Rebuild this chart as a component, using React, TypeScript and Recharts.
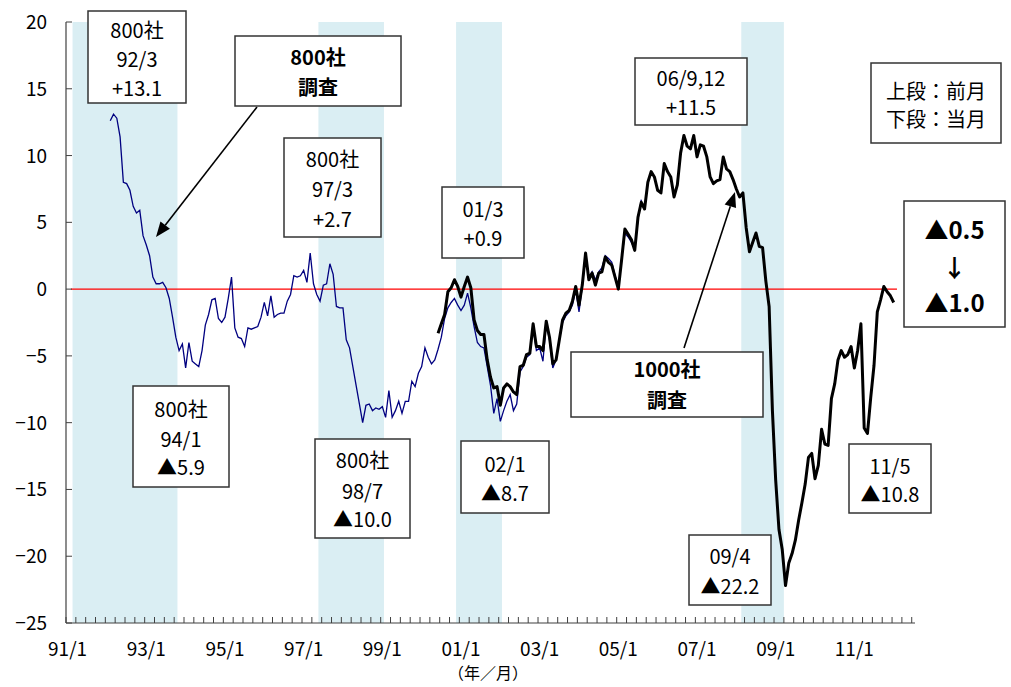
import { LineChart, Line, XAxis, YAxis, ReferenceArea, ReferenceLine } from 'recharts'

// 月次カテゴリ 91/1 〜 12/7
const months: string[] = []
for (let y = 1991; y <= 2012; y++) {
  for (let m = 1; m <= 12; m++) {
    if (y === 2012 && m > 7) break
    months.push(`${String(y % 100).padStart(2, '0')}/${m}`)
  }
}

// 800社調査 (92/2〜05/8)
const survey800Start = '92/2'
const survey800 = [
  12.6, 13.1, 12.8, 11.4, 8.0, 7.9, 7.4, 6.2, 5.7, 5.9, 4.0,
  3.3, 2.5, 0.9, 0.4, 0.4, 0.5, 0.1, -0.7, -2.1, -3.6, -4.6, -4.1,
  -5.9, -4.0, -5.4, -5.6, -5.8, -4.6, -2.7, -1.9, -0.8, -0.7, -2.2, -2.5,
  -2.1, -0.7, 0.9, -2.9, -3.6, -3.7, -4.3, -2.9, -3.0, -2.9, -2.8, -2.1,
  -1.0, -2.0, -0.5, -2.1, -1.9, -1.8, -1.8, -0.9, -0.4, 1.0, 0.9, 1.0,
  1.4, 0.5, 2.7, 0.4, -0.4, -0.9, 0.3, 0.4, 1.9, 1.1, -1.3, -1.4,
  -1.4, -3.8, -4.4, -5.8, -7.2, -8.6, -10.0, -8.7, -8.6, -9.1, -8.9, -9.0,
  -8.8, -9.6, -7.6, -9.6, -9.1, -8.4, -9.3, -8.4, -8.4, -6.9, -7.3, -6.3,
  -5.8, -4.4, -5.1, -5.6, -5.3, -4.5, -3.6, -2.2, -1.4, -1.0, -0.7, -1.2,
  -1.6, -1.2, -0.3, -1.4, -2.8, -4.0, -4.3, -4.4, -5.8, -7.2, -9.3, -8.2,
  -9.9, -9.1, -8.4, -7.9, -9.1, -8.6, -6.2, -5.8, -5.1, -4.9, -2.9, -4.6,
  -4.4, -5.4, -2.6, -3.8, -5.9, -5.3, -3.8, -2.5, -2.0, -1.7, -1.2, -0.1,
  -1.7, 0.2, 2.6, 0.9, 1.3, 0.7, 1.3, 1.6, 2.5, 2.3, 2.0, 1.0,
  0.1, 2.2, 4.2, 3.9, 3.5, 3.0, 5.2, 6.7,
]

// 1000社調査 (00/6〜12/1)
const survey1000Start = '00/6'
const survey1000 = [
  -3.3, -2.6, -1.9, -0.2, 0.1, 0.7, 0.2,
  -0.6, 0.2, 0.9, 0.1, -2.3, -3.1, -3.4, -3.4, -5.3, -6.6, -7.4, -7.3,
  -8.7, -7.4, -7.1, -7.3, -7.7, -7.9, -5.8, -5.7, -4.9, -4.8, -2.6, -4.3,
  -4.3, -4.6, -2.4, -3.6, -5.6, -5.3, -3.8, -2.3, -1.8, -1.6, -0.9, 0.2,
  -1.2, 0.3, 2.7, 0.7, 1.2, 0.3, 1.2, 1.3, 2.4, 2.0, 1.8, 0.9,
  0.0, 2.2, 4.5, 4.1, 3.7, 2.9, 5.4, 6.5, 6.0, 8.0, 8.8, 8.4,
  7.4, 7.2, 9.4, 8.8, 8.4, 6.9, 7.8, 10.2, 11.5, 10.7, 10.5, 11.5,
  9.9, 10.8, 10.7, 9.9, 8.4, 7.9, 8.1, 8.2, 9.9, 9.0, 8.8, 8.2,
  7.5, 6.9, 7.2, 4.6, 2.8, 3.5, 4.2, 3.2, 3.1, 0.6, -1.3, -9.1,
  -14.3, -18.0, -19.5, -22.2, -20.5, -19.8, -18.8, -17.3, -16.0, -14.6, -12.6, -12.3,
  -14.2, -13.2, -10.5, -11.6, -11.7, -8.2, -7.1, -5.3, -4.6, -5.1, -4.9, -4.3,
  -5.9, -4.6, -2.6, -10.4, -10.8, -8.1, -5.7, -1.7, -0.8, 0.2, -0.2, -0.5,
  -1.0,
]

// 景気後退期 (網掛け)
const recessions: [string, string][] = [
  ['91/3', '93/10'],
  ['97/6', '99/1'],
  ['00/12', '02/1'],
  ['08/3', '09/3'],
]

const zeroLine: [string, string] = ['91/2', '12/2']

const yTicks = [-25, -20, -15, -10, -5, 0, 5, 10, 15, 20]

const WIDTH = 1011
const HEIGHT = 687
const PLOT_LEFT = 66
const PLOT_TOP = 22
const PLOT_RIGHT = 915
const PLOT_BOTTOM = 623
const BAND = (PLOT_RIGHT - PLOT_LEFT) / months.length

const FONT = "'Noto Sans CJK JP', 'Noto Sans', sans-serif"
const AXIS = '#404040'

const i800 = months.indexOf(survey800Start)
const i1000 = months.indexOf(survey1000Start)

const data = months.map((m, i) => ({
  x: i + 0.5,
  month: m,
  s800: i >= i800 && i < i800 + survey800.length ? survey800[i - i800] : null,
  s1000: i >= i1000 && i < i1000 + survey1000.length ? survey1000[i - i1000] : null,
}))

const xTicks = months.map((_, i) => i).filter((i) => i % 3 === 0)

function MonthTick(props: any) {
  const { x, y, payload } = props
  const v = payload.value as number
  return (
    <g>
      <line x1={x} x2={x} y1={y - 6} y2={y} stroke={AXIS} strokeWidth={1} />
      {v % 24 === 0 && (
        <text x={x + BAND / 2} y={y + 33} textAnchor="middle" fontSize={19} fontFamily={FONT} fill="#000">
          {months[v]}
        </text>
      )}
    </g>
  )
}

function ValueTick(props: any) {
  const { x, y, payload } = props
  const v = payload.value as number
  return (
    <g>
      <line x1={x} x2={x + 6} y1={y} y2={y} stroke={AXIS} strokeWidth={1} />
      <text x={x - 19} y={y + 7} textAnchor="end" fontSize={19} fontFamily={FONT} fill="#000">
        {v < 0 ? `−${-v}` : v}
      </text>
    </g>
  )
}

interface Note {
  x: number
  y: number
  w: number
  h: number
  lines: string[]
  ys: number[]
  size?: number
  bold?: boolean
}

const notes: Note[] = [
  { x: 88, y: 11, w: 98, h: 92, lines: ['800社', '92/3', '+13.1'], ys: [31, 60, 89] },
  { x: 235, y: 36, w: 166, h: 70, lines: ['800社', '調査'], ys: [58, 88], size: 20, bold: true },
  { x: 284, y: 138, w: 97, h: 99, lines: ['800社', '97/3', '+2.7'], ys: [160, 190, 220] },
  { x: 442, y: 187, w: 82, h: 71, lines: ['01/3', '+0.9'], ys: [210, 239] },
  { x: 635, y: 58, w: 112, h: 67, lines: ['06/9,12', '+11.5'], ys: [79, 108] },
  { x: 871, y: 63, w: 130, h: 80, lines: ['上段：前月', '下段：当月'], ys: [92, 120], size: 20 },
  { x: 904, y: 201, w: 101, h: 126, lines: ['▲0.5', '↓', '▲1.0'], ys: [230, 268, 303], size: 24, bold: true },
  { x: 133, y: 386, w: 96, h: 101, lines: ['800社', '94/1', '▲5.9'], ys: [410, 440, 468] },
  { x: 315, y: 439, w: 95, h: 99, lines: ['800社', '98/7', '▲10.0'], ys: [461, 492, 520] },
  { x: 461, y: 441, w: 88, h: 72, lines: ['02/1', '▲8.7'], ys: [465, 494] },
  { x: 571, y: 352, w: 192, h: 65, lines: ['1000社', '調査'], ys: [370, 401], size: 20, bold: true },
  { x: 689, y: 535, w: 82, h: 70, lines: ['09/4', '▲22.2'], ys: [557, 587] },
  { x: 849, y: 444, w: 82, h: 69, lines: ['11/5', '▲10.8'], ys: [467, 495] },
]

const arrows = [
  { from: [257, 107], to: [156, 237] },
  { from: [684, 348], to: [735, 192] },
]

function Arrow({ from, to }: { from: number[]; to: number[] }) {
  const dx = to[0] - from[0]
  const dy = to[1] - from[1]
  const len = Math.hypot(dx, dy)
  const ux = dx / len
  const uy = dy / len
  const hl = 15
  const hw = 6
  const bx = to[0] - ux * hl
  const by = to[1] - uy * hl
  const pts = [
    `${to[0]},${to[1]}`,
    `${bx - uy * hw},${by + ux * hw}`,
    `${bx + uy * hw},${by - ux * hw}`,
  ].join(' ')
  return (
    <g>
      <line x1={from[0]} y1={from[1]} x2={bx} y2={by} stroke="#000" strokeWidth={1.6} />
      <polygon points={pts} fill="#000" />
    </g>
  )
}

export default function App() {
  return (
    <div style={{ position: 'absolute', left: 0, top: 0, width: WIDTH, height: HEIGHT, background: '#fff' }}>
      <LineChart
        width={WIDTH}
        height={HEIGHT}
        data={data}
        margin={{ top: PLOT_TOP, right: WIDTH - PLOT_RIGHT, bottom: 0, left: 0 }}
      >
        {recessions.map(([a, b]) => (
          <ReferenceArea
            key={a}
            x1={months.indexOf(a)}
            x2={months.indexOf(b) + 1}
            y1={-25}
            y2={20}
            fill="#DAEEF3"
            fillOpacity={1}
            stroke="none"
          />
        ))}
        <XAxis
          type="number"
          dataKey="x"
          domain={[0, months.length]}
          ticks={xTicks}
          interval={0}
          allowDataOverflow
          height={HEIGHT - PLOT_BOTTOM}
          tickLine={false}
          tickSize={0}
          tickMargin={0}
          tick={<MonthTick />}
          axisLine={{ stroke: AXIS, strokeWidth: 1.2 }}
        />
        <YAxis
          type="number"
          domain={[-25, 20]}
          ticks={yTicks}
          interval={0}
          allowDataOverflow
          width={PLOT_LEFT}
          tickLine={false}
          tickSize={0}
          tickMargin={0}
          tick={<ValueTick />}
          axisLine={{ stroke: AXIS, strokeWidth: 1.2 }}
        />
        <ReferenceLine
          segment={[
            { x: months.indexOf(zeroLine[0]) + 0.5, y: 0 },
            { x: months.indexOf(zeroLine[1]) + 0.5, y: 0 },
          ]}
          stroke="#FF0000"
          strokeWidth={1.2}
        />
        <Line
          type="linear"
          dataKey="s800"
          stroke="#000080"
          strokeWidth={1.3}
          dot={false}
          activeDot={false}
          isAnimationActive={false}
        />
        <Line
          type="linear"
          dataKey="s1000"
          stroke="#000"
          strokeWidth={3}
          strokeLinejoin="round"
          dot={false}
          activeDot={false}
          isAnimationActive={false}
        />
      </LineChart>

      <svg
        width={WIDTH}
        height={HEIGHT}
        style={{ position: 'absolute', left: 0, top: 0, pointerEvents: 'none' }}
      >
        {arrows.map((a, i) => (
          <Arrow key={i} from={a.from} to={a.to} />
        ))}
        {notes.map((n, i) => (
          <g key={i}>
            <rect x={n.x} y={n.y} width={n.w} height={n.h} fill="#fff" stroke="#333" strokeWidth={1.5} />
            {n.lines.map((t, j) => (
              <text
                key={j}
                x={n.x + n.w / 2}
                y={n.ys[j]}
                dy="0.36em"
                textAnchor="middle"
                fontSize={n.size ?? 20}
                fontWeight={n.bold ? 700 : 400}
                fontFamily={FONT}
                fill="#000"
              >
                {t}
              </text>
            ))}
          </g>
        ))}
        <text x={488} y={673} dy="0.36em" textAnchor="middle" fontSize={16} fontFamily={FONT} fill="#000">
          （年／月）
        </text>
      </svg>
    </div>
  )
}
